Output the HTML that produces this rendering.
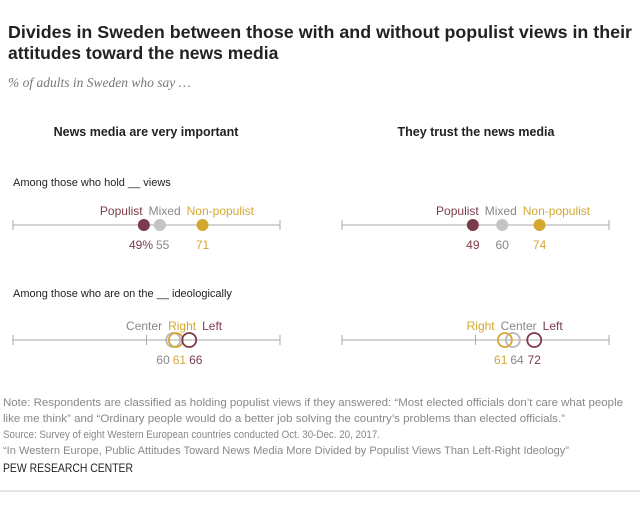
<!DOCTYPE html>
<html><head><meta charset="utf-8"><style>
body{margin:0;width:640px;height:502px;background:#fff;font-family:"Liberation Sans",sans-serif;overflow:hidden}
svg text{font-family:"Liberation Sans",sans-serif}
</style></head><body>
<svg width="640" height="502" id="c">
<text x="8" y="38" font-size="17.5" font-weight="bold" fill="#222" textLength="624" lengthAdjust="spacingAndGlyphs">Divides in Sweden between those with and without populist views in their</text>
<text x="8" y="59" font-size="17.5" font-weight="bold" fill="#222">attitudes toward the news media</text>
<text x="8" y="87" font-size="13.5" font-style="italic" fill="#777" style="font-family:'Liberation Serif',serif">% of adults in Sweden who say …</text>
<text x="146" y="136" font-size="12.5" font-weight="bold" text-anchor="middle" fill="#222">News media are very important</text>
<text x="476" y="136" font-size="12.5" font-weight="bold" text-anchor="middle" fill="#222">They trust the news media</text>
<text x="13" y="186" font-size="11" fill="#222">Among those who hold __ views</text>
<text x="13" y="297" font-size="11" fill="#222">Among those who are on the __ ideologically</text>
<g id="g"></g>
<g font-size="10.8" fill="#888">
<text x="3" y="406" textLength="620" lengthAdjust="spacingAndGlyphs">Note: Respondents are classified as holding populist views if they answered: “Most elected officials don’t care what people</text>
<text x="3" y="422" textLength="562" lengthAdjust="spacingAndGlyphs">like me think” and “Ordinary people would do a better job solving the country’s problems than elected officials.”</text>
<text x="3" y="438" textLength="377" lengthAdjust="spacingAndGlyphs">Source: Survey of eight Western European countries conducted Oct. 30-Dec. 20, 2017.</text>
<text x="3" y="454" textLength="566" lengthAdjust="spacingAndGlyphs">“In Western Europe, Public Attitudes Toward News Media More Divided by Populist Views Than Left-Right Ideology”</text>
</g>
<text x="3" y="472" font-size="12" fill="#222" textLength="130" lengthAdjust="spacingAndGlyphs">PEW RESEARCH CENTER</text>
<line x1="0" y1="491" x2="640" y2="491" stroke="#ccc"/>
</svg>
<script>
const panels=["important","trust"];
const popCats=["Populist","Mixed","Non-populist"];
const popImportant=[49,55,71];
const popTrust=[49,60,74];
const ideoCats=["Center","Right","Left"];
const ideoImportant=[60,61,66];
const ideoTrust=[64,61,72];
const popLabels=[["49%","55","71"],["49","60","74"]];
const ideoLabels=[["60","61","66"],["64","61","72"]];
const colors={"Populist":"#7b3b4a","Mixed":"#c4c4c4","Non-populist":"#d4a82e","Left":"#7b3b4a","Center":"#b8b8b8","Right":"#d4a82e"};
const textColors={"Populist":"#7b3b4a","Mixed":"#888","Non-populist":"#d4a82e","Left":"#7b3b4a","Center":"#888","Right":"#d4a82e"};
const NS="http://www.w3.org/2000/svg";
const g=document.getElementById('g');
const x0=[13,342],W=267;
function xs(p,v){return x0[p]+v/100*W;}
function mk(t,a){const e=document.createElementNS(NS,t);for(const k in a)e.setAttribute(k,a[k]);g.appendChild(e);return e;}
function axis(p,y,mid){
 let l=mk('line',{x1:xs(p,0),x2:xs(p,100),y1:y,y2:y,stroke:'#aaa'});
 
 
 [0,100].concat(mid?[50]:[]).forEach(v=>{let t=mk('line',{x1:xs(p,v),x2:xs(p,v),y1:y-5,y2:y+5,stroke:'#aaa'});
 
 });
}
function spread(els,centers,gap){
 const n=els.length;const w=els.map(e=>e.getComputedTextLength());
 const order=centers.map((c,i)=>i).sort((a,b)=>centers[a]-centers[b]);
 const c=centers.slice();
 for(let it=0;it<60;it++){
  for(let k=0;k<n-1;k++){const a=order[k],b=order[k+1];
   const ov=(c[a]+w[a]/2+gap)-(c[b]-w[b]/2);
   if(ov>0){c[a]-=ov/2;c[b]+=ov/2;}}
 }
 els.forEach((e,i)=>e.setAttribute('x',c[i]));
}
function row(p,cats,vals,labs,y,filled){
 axis(p,y,!filled);
 const tops=[],bots=[],cs=[];
 cats.forEach((cat,i)=>{
  const cx=xs(p,vals[i]);cs.push(cx);
  let d=mk('circle',{cx:cx,cy:y,r:filled?6:7,fill:filled?colors[cat]:'none',stroke:filled?'none':colors[cat],'stroke-width':1.8});
  
  
  let t=mk('text',{x:cx,y:y-10,'text-anchor':'middle','font-size':12,fill:textColors[cat]});t.textContent=cat;
  
  
  tops.push(t);
  let b=mk('text',{x:cx,y:y+24,'text-anchor':'middle','font-size':12,fill:textColors[cat]});b.textContent=labs[i];
  
  
  bots.push(b);
 });
 spread(tops,cs,6);spread(bots,cs,3);
}
row(0,popCats,popImportant,popLabels[0],225,true);
row(1,popCats,popTrust,popLabels[1],225,true);
row(0,ideoCats,ideoImportant,ideoLabels[0],340,false);
row(1,ideoCats,ideoTrust,ideoLabels[1],340,false);
</script>
</body></html>
